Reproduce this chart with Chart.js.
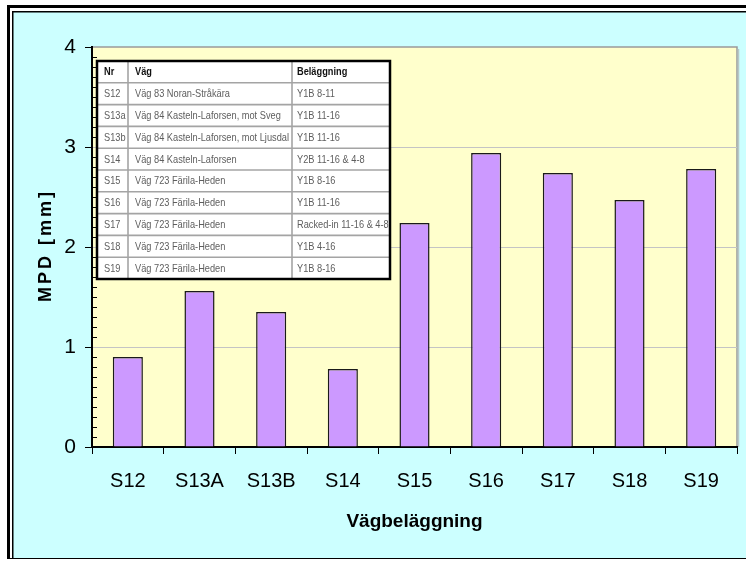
<!DOCTYPE html>
<html>
<head>
<meta charset="utf-8">
<script src="https://cdn.jsdelivr.net/npm/chart.js@4.4.1/dist/chart.umd.min.js"></script>
<style>
  html, body { margin: 0; padding: 0; background: #fff; }
  #wrap { width: 746px; height: 561px; }
</style>
</head>
<body>
<div id="wrap"><canvas id="myChart" width="746" height="561"></canvas></div>
<script>
// chart data
const categories = ['S12', 'S13A', 'S13B', 'S14', 'S15', 'S16', 'S17', 'S18', 'S19'];
const mpdValues = [0.90, 1.56, 1.35, 0.78, 2.24, 2.94, 2.74, 2.47, 2.78];
const yMin = 0;
const yMax = 4;
const yStep = 1;

// embedded table
const tableHeader = ['Nr', 'Väg', 'Beläggning'];
const tableNr = ['S12', 'S13a', 'S13b', 'S14', 'S15', 'S16', 'S17', 'S18', 'S19'];
const tableRoad = [
  'Väg 83 Noran-Stråkära',
  'Väg 84 Kasteln-Laforsen, mot Sveg',
  'Väg 84 Kasteln-Laforsen, mot Ljusdal',
  'Väg 84 Kasteln-Laforsen',
  'Väg 723 Färila-Heden',
  'Väg 723 Färila-Heden',
  'Väg 723 Färila-Heden',
  'Väg 723 Färila-Heden',
  'Väg 723 Färila-Heden'
];
const tablePaving = [
  'Y1B 8-11',
  'Y1B 11-16',
  'Y1B 11-16',
  'Y2B 11-16 & 4-8',
  'Y1B 8-16',
  'Y1B 11-16',
  'Racked-in 11-16 & 4-8',
  'Y1B 4-16',
  'Y1B 8-16'
];

const FONT = "'Liberation Sans', Arial, sans-serif";

// frame, cyan background and yellow plot area
const backdrop = {
  id: 'backdrop',
  beforeDraw(chart) {
    const ctx = chart.ctx;
    const a = chart.chartArea;
    ctx.save();
    ctx.fillStyle = '#ffffff';
    ctx.fillRect(0, 0, chart.width, chart.height);
    ctx.fillStyle = '#ccffff';
    ctx.fillRect(13, 12, chart.width - 13, 546);
    ctx.fillStyle = '#000';
    ctx.fillRect(7, 5, chart.width - 7, 3);   // thick top
    ctx.fillRect(7, 5, 3, 554);               // thick left
    ctx.fillRect(12, 11, chart.width - 12, 1.5); // thin top
    ctx.fillRect(12, 11, 1.5, 547);            // thin left
    ctx.fillRect(7, 558, chart.width - 7, 1);  // bottom
    // plot area
    ctx.fillStyle = '#ffffcc';
    ctx.fillRect(a.left, a.top, a.right - a.left, a.bottom - a.top);
    ctx.strokeStyle = '#9a9a9a';
    ctx.lineWidth = 1.5;
    ctx.beginPath();
    ctx.moveTo(a.left, a.top);
    ctx.lineTo(a.right, a.top);
    ctx.lineTo(a.right, a.bottom);
    ctx.stroke();
    ctx.strokeStyle = '#b8c8c8';
    ctx.beginPath();
    ctx.moveTo(a.right + 1.5, a.top + 2);
    ctx.lineTo(a.right + 1.5, a.bottom);
    ctx.stroke();
    ctx.restore();
  }
};

// minor ticks, y title and the table on top
const extras = {
  id: 'extras',
  afterDraw(chart) {
    const ctx = chart.ctx;
    const y = chart.scales.y;
    const a = chart.chartArea;
    ctx.save();

    // minor ticks every 0.1, inside the plot
    ctx.strokeStyle = '#000';
    ctx.lineWidth = 1;
    for (let i = 1; i < 40; i++) {
      if (i % 10 === 0) continue;
      const py = Math.round(y.getPixelForValue(i / 10)) + 0.5;
      ctx.beginPath();
      ctx.moveTo(a.left, py);
      ctx.lineTo(a.left + 5, py);
      ctx.stroke();
    }

    // y axis title
    ctx.save();
    ctx.translate(46, (a.top + a.bottom) / 2);
    ctx.rotate(-Math.PI / 2);
    ctx.font = 'bold 18px ' + FONT;
    ctx.letterSpacing = '3px';
    ctx.fillStyle = '#000';
    ctx.textAlign = 'center';
    ctx.textBaseline = 'middle';
    ctx.fillText('MPD [mm]', 1.5, 0);
    ctx.restore();

    // table
    const tx = [a.left + 5, a.left + 36, a.left + 200, a.left + 298];
    const top = a.top + 14;
    const rowH = 21.8;
    const nRows = tableNr.length + 1;
    const bottom = top + rowH * nRows;
    ctx.fillStyle = '#ffffff';
    ctx.fillRect(tx[0], top, tx[3] - tx[0], bottom - top);

    ctx.strokeStyle = '#a4a4a4';
    ctx.lineWidth = 1.6;
    for (let r = 1; r < nRows; r++) {
      ctx.beginPath();
      ctx.moveTo(tx[0], top + r * rowH);
      ctx.lineTo(tx[3], top + r * rowH);
      ctx.stroke();
    }
    for (let c = 1; c < 3; c++) {
      ctx.beginPath();
      ctx.moveTo(tx[c], top);
      ctx.lineTo(tx[c], bottom);
      ctx.stroke();
    }
    ctx.strokeStyle = '#000';
    ctx.lineWidth = 2.5;
    ctx.strokeRect(tx[0], top, tx[3] - tx[0], bottom - top);

    // squeeze text horizontally like the pasted picture
    ctx.font = '11px ' + FONT;
    const sx = 154 / ctx.measureText(tableRoad[2]).width;
    ctx.textBaseline = 'middle';
    ctx.textAlign = 'left';
    const pad = [7, 7, 5];
    const put = (txt, col, row, bold) => {
      ctx.save();
      ctx.font = (bold ? 'bold ' : '') + '11px ' + FONT;
      ctx.fillStyle = bold ? '#111' : '#5e5e5e';
      ctx.scale(sx, 1);
      ctx.fillText(txt, (tx[col] + pad[col]) / sx, top + rowH * row + rowH / 2 + 0.5);
      ctx.restore();
    };
    tableHeader.forEach((h, c) => put(h, c, 0, true));
    for (let r = 0; r < tableNr.length; r++) {
      put(tableNr[r], 0, r + 1, false);
      put(tableRoad[r], 1, r + 1, false);
      put(tablePaving[r], 2, r + 1, false);
    }
    ctx.restore();
  }
};

new Chart(document.getElementById('myChart'), {
  type: 'bar',
  data: {
    labels: categories,
    datasets: [{
      label: 'MPD',
      data: mpdValues,
      backgroundColor: '#cc99ff',
      borderColor: '#1a1a1a',
      borderWidth: 1.5,
      categoryPercentage: 1,
      barPercentage: 0.42
    }]
  },
  options: {
    responsive: false,
    animation: false,
    layout: { padding: { left: 0, top: 47, right: 9, bottom: 0 } },
    plugins: {
      legend: { display: false },
      tooltip: { enabled: false }
    },
    scales: {
      x: {
        afterFit(scale) { scale.height = 114; },
        grid: {
          offset: true,
          drawOnChartArea: false,
          drawTicks: true,
          tickLength: 7,
          tickColor: '#000',
          tickWidth: 1
        },
        border: { display: true, color: '#000', width: 2 },
        ticks: {
          color: '#000',
          font: { family: FONT, size: 20 },
          padding: 15,
          maxRotation: 0
        },
        title: {
          display: true,
          text: 'Vägbeläggning',
          color: '#000',
          font: { family: FONT, size: 19, weight: 'bold' },
          padding: { top: 0, bottom: 28 }
        }
      },
      y: {
        min: yMin,
        max: yMax,
        afterFit(scale) { scale.width = 92; },
        grid: {
          color: (c) => (c.tick && c.tick.value > yMin && c.tick.value < yMax) ? '#c4c4c4' : 'rgba(0,0,0,0)',
          lineWidth: 1,
          drawTicks: true,
          tickLength: 7,
          tickColor: '#000',
          tickWidth: 1
        },
        border: { display: true, color: '#000', width: 2 },
        ticks: {
          stepSize: yStep,
          color: '#000',
          font: { family: FONT, size: 21 },
          padding: 9
        },
        title: { display: false }
      }
    }
  },
  plugins: [backdrop, extras]
});
</script>
</body>
</html>
